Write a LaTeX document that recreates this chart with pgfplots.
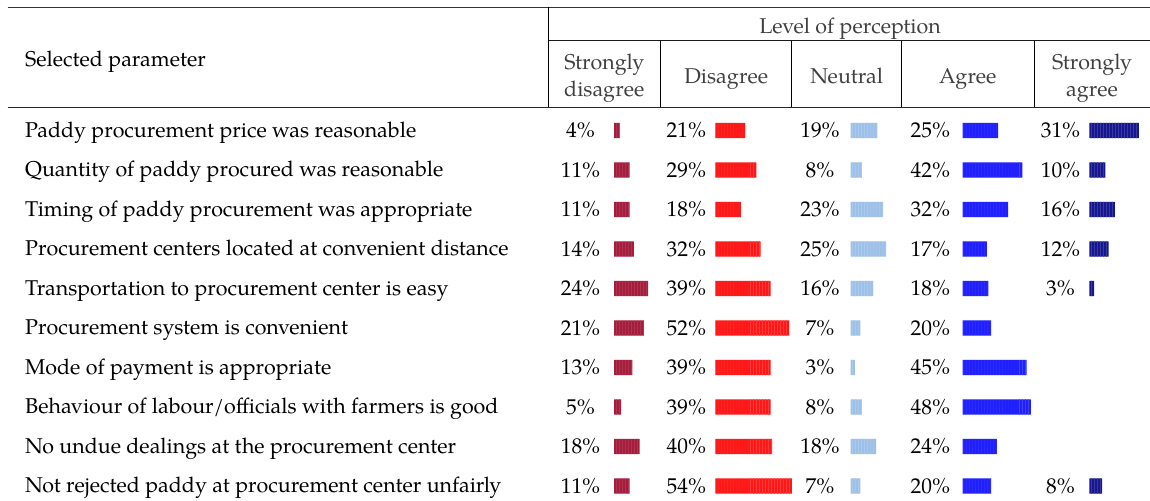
\documentclass[border=0pt]{standalone}
\usepackage{fontspec}
\setmainfont{texgyrepagella-regular.otf}
\usepackage{pgfplots}
\pgfplotsset{compat=1.18}
\usepackage{pgfplotstable}
\usetikzlibrary{patterns}
\definecolor{csd}{HTML}{A51D3D}
\definecolor{cd}{HTML}{FF1818}
\definecolor{cn}{HTML}{9DC0E8}
\definecolor{ca}{HTML}{2020FF}
\definecolor{csa}{HTML}{16168F}
\definecolor{hdr}{HTML}{404040}

\pgfplotstableread{
row v
1 4
2 11
3 11
4 14
5 24
6 21
7 13
8 5
9 18
10 11
}\tsd
\pgfplotstableread{
row v
1 21
2 29
3 18
4 32
5 39
6 52
7 39
8 39
9 40
10 54
}\td
\pgfplotstableread{
row v
1 19
2 8
3 23
4 25
5 16
6 7
7 3
8 8
9 18
10 7
}\tn
\pgfplotstableread{
row v
1 25
2 42
3 32
4 17
5 18
6 20
7 45
8 48
9 24
10 20
}\ta
\pgfplotstableread{
row v
1 31
2 10
3 16
4 12
5 3
10 8
}\tsa

\newcommand{\bodyfont}{\fontsize{21.5}{25}\selectfont}

\pgfplotsset{
  colax/.style={hide axis, clip=false, y=39.5bp, y dir=reverse,
    xmin=0, xmax=60, ymin=1, ymax=10, anchor=north west},
  bars/.style={xbar, bar width=15.3bp, bar shift=0pt, fill=#1, draw=none,
    postaction={pattern=vertical lines, pattern color=#1!85!white}},
  labs/.style={only marks, mark=text, text mark={},
    point meta=explicit symbolic,
    nodes near coords={\pgfplotspointmeta\%},
    every node near coord/.append style={anchor=center, xshift=#1, text=black, font=\bodyfont, inner sep=0pt}},
}

\begin{document}
\begin{tikzpicture}
\useasboundingbox (0,0) rectangle (1150bp,-501bp);
% rules
\draw[line width=1.3bp, black!80] (7.5bp,-7.3bp) -- (1150bp,-7.3bp);
\draw[line width=1bp, black!90] (548bp,-40.7bp) -- (1150bp,-40.7bp);
\draw[line width=1.3bp, black!85] (7.5bp,-107.3bp) -- (1150bp,-107.3bp);
\draw[line width=0.9bp] (548bp,-7.3bp) -- (548bp,-107.3bp);
\foreach \x in {660.7,791.7,901.7,1034} \draw[line width=0.9bp] (\x bp,-40.7bp) -- (\x bp,-107.3bp);
% header
\begin{scope}[every node/.style={inner sep=0pt, text=hdr, font=\bodyfont}]
\node[anchor=base] at (850bp,-33.5bp) {Level of perception};
\node[anchor=base west, text=black] at (25bp,-66.7bp) {Selected parameter};
\node[anchor=base] at (604.3bp,-69bp) {Strongly};
\node[anchor=base] at (604.3bp,-96.5bp) {disagree};
\node[anchor=base] at (726.2bp,-83.5bp) {Disagree};
\node[anchor=base] at (846.7bp,-83.5bp) {Neutral};
\node[anchor=base] at (967.8bp,-83.5bp) {Agree};
\node[anchor=base] at (1092bp,-69bp) {Strongly};
\node[anchor=base] at (1092bp,-96.5bp) {agree};
\end{scope}
% row labels
\begin{scope}[every node/.style={inner sep=0pt, anchor=base west, font=\bodyfont}]
\foreach \i/\t in {1/{Paddy procurement price was reasonable},
  2/{Quantity of paddy procured was reasonable},
  3/{Timing of paddy procurement was appropriate},
  4/{Procurement centers located at convenient distance},
  5/{Transportation to procurement center is easy},
  6/{Procurement system is convenient},
  7/{Mode of payment is appropriate},
  8/{Behaviour of labour/officials with farmers is good},
  9/{No undue dealings at the procurement center},
  10/{Not rejected paddy at procurement center unfairly}}
  \node at (25bp,{-(137.2+(\i-1)*39.5)*1bp}) {\t};
\end{scope}
% columns
\begin{axis}[colax, x=1.42bp, at={(614bp,-130.5bp)}]
\addplot[bars=csd] table[x=v,y=row]{\tsd};
\addplot[labs=-33.5bp] table[x expr=0,y=row,meta=v]{\tsd};
\end{axis}
\begin{axis}[colax, x=1.42bp, at={(715.3bp,-130.5bp)}]
\addplot[bars=cd] table[x=v,y=row]{\td};
\addplot[labs=-29bp] table[x expr=0,y=row,meta=v]{\td};
\end{axis}
\begin{axis}[colax, x=1.42bp, at={(850.5bp,-130.5bp)}]
\addplot[bars=cn] table[x=v,y=row]{\tn};
\addplot[labs=-30.5bp] table[x expr=0,y=row,meta=v]{\tn};
\end{axis}
\begin{axis}[colax, x=1.42bp, at={(962.7bp,-130.5bp)}]
\addplot[bars=ca] table[x=v,y=row]{\ta};
\addplot[labs=-32.4bp] table[x expr=0,y=row,meta=v]{\ta};
\end{axis}
\begin{axis}[colax, x=1.6bp, xmax=40, at={(1089.3bp,-130.5bp)}]
\addplot[bars=csa] table[x=v,y=row]{\tsa};
\addplot[labs=-28.8bp] table[x expr=0,y=row,meta=v]{\tsa};
\end{axis}
\end{tikzpicture}
\end{document}
